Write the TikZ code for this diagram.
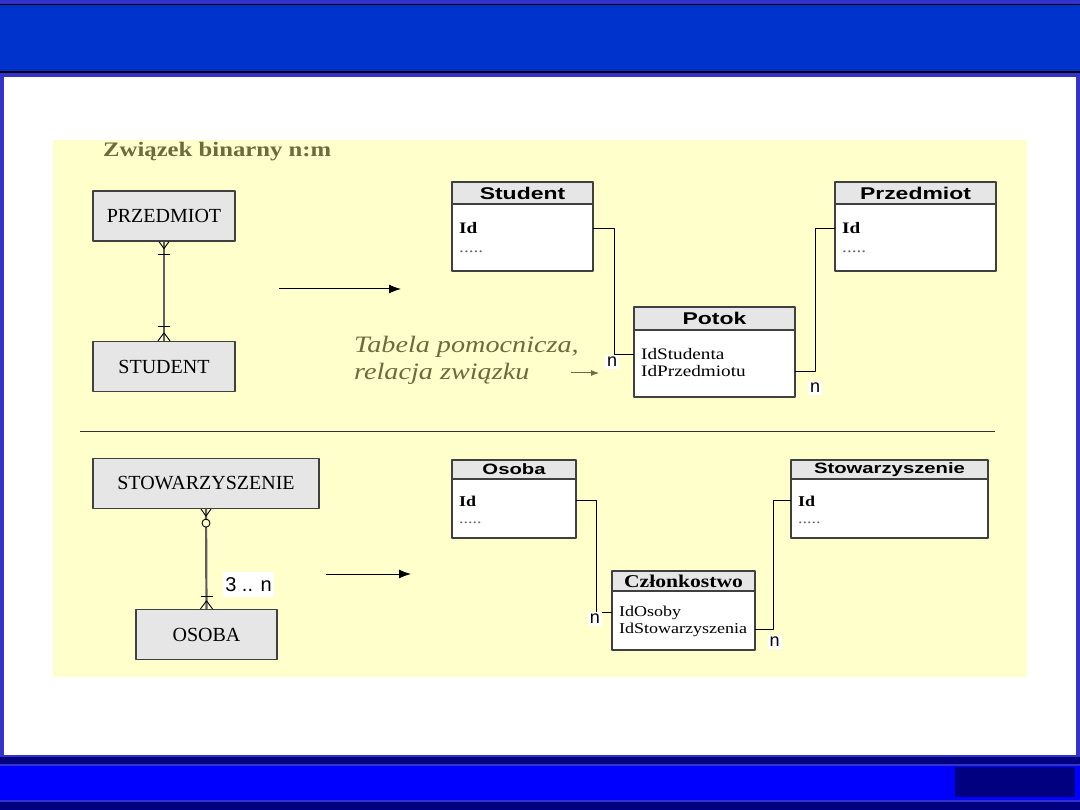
\documentclass[tikz,border=0pt]{standalone}
\usepackage{fontspec}
\setmainfont{Liberation Serif}
\newfontfamily\erfont{Liberation Serif}
\newfontfamily\fieldfont[FakeStretch=1.2]{Liberation Serif}
\newfontfamily\headfont[FakeStretch=1.35]{Liberation Sans}
\newfontfamily\labfont{Liberation Sans}
\usetikzlibrary{arrows.meta,positioning}
\definecolor{slideframe}{HTML}{3333CC}
\definecolor{headblue}{HTML}{0033CC}
\definecolor{footblue}{HTML}{0000FF}
\definecolor{footnavy}{HTML}{000080}
\definecolor{panelyellow}{HTML}{FFFFCC}
\definecolor{boxgray}{HTML}{E6E6E6}
\definecolor{edgegray}{HTML}{404040}
\definecolor{olivetext}{HTML}{6B6B3D}
\definecolor{relgray}{HTML}{5F5F5F}

\begin{document}
\begin{tikzpicture}[
  x=1pt,
  y=-1pt,
  line join=round,
  entity/.style={draw=edgegray,fill=boxgray,line width=1.2pt,minimum height=50,inner sep=0pt,font=\erfont\fontsize{20}{24}\selectfont},
  thead/.style={draw=edgegray,fill=boxgray,line width=1.2pt,outer sep=0pt,inner sep=0pt,font=\headfont\bfseries\fontsize{17}{20}\selectfont},
  tbody/.style={draw=edgegray,fill=white,line width=1.2pt,outer sep=0pt,inner sep=0pt},
  field/.style={anchor=base west,inner sep=0pt,font=\fieldfont\fontsize{16}{19}\selectfont},
  dots/.style={field,text=black!60},
  link/.style={draw=black,line width=0.9pt},
  card/.style={fill=white,inner sep=2pt,font=\labfont\fontsize{18}{20}\selectfont},
  relline/.style={draw=relgray,line width=2.2pt},
  crow/.style={draw=black,line width=0.9pt},
  note/.style={anchor=base west,inner sep=0pt,text=olivetext,font=\fieldfont\itshape\fontsize{23.5}{27}\selectfont},
  bigarrow/.style={draw=black,line width=1pt,-{Latex[length=12pt,width=9pt]}}
]
  \useasboundingbox (0,0) rectangle (1080,810);

  % slide frame, header and footer bands
  \fill[slideframe] (0,0) rectangle (1080,810);
  \fill[headblue] (0,4) rectangle (1080,72);
  \draw[black,line width=0.8pt] (0,4) -- (1080,4);
  \draw[black,line width=2pt] (0,72) -- (1080,72);
  \fill[white] (4,77) rectangle (1076,755);
  \fill[footnavy] (0,757) rectangle (1080,764);
  \fill[footblue] (0,766) rectangle (1080,800);
  \fill[footnavy] (955,767) rectangle (1075,797);
  \fill[footnavy] (0,802) rectangle (1080,810);

  % yellow panel
  \fill[panelyellow] (53,140) rectangle (1027,677);

  \node[anchor=base west,inner sep=0pt,text=olivetext,font=\fieldfont\bfseries\fontsize{20.6}{24}\selectfont] (title) at (103,157) {Związek binarny n:m};

  % upper part: ER model
  \node[entity,minimum width=142] (przedmiot) at (164,216) {PRZEDMIOT};
  \node[entity,minimum width=142] (student) at (164,366.5) {STUDENT};
  \draw[relline] (przedmiot.south) -- (student.north);
  \draw[crow] ([xshift=-5pt]przedmiot.south) -- ([yshift=-7pt]przedmiot.south) -- ([xshift=5pt]przedmiot.south);
  \draw[crow] ([xshift=-6pt,yshift=-13pt]przedmiot.south) -- ([xshift=6pt,yshift=-13pt]przedmiot.south);
  \draw[crow] ([xshift=-6pt,yshift=14pt]student.north) -- ([xshift=6pt,yshift=14pt]student.north);
  \draw[crow] ([xshift=-6pt]student.north) -- ([yshift=8pt]student.north) -- ([xshift=6pt]student.north);

  \coordinate (arrA) at (279,289);
  \coordinate (arrB) at (401,289);
  \draw[bigarrow] (arrA) -- (arrB);

  % upper part: tables
  \node[thead,minimum width=141,minimum height=22,anchor=north west] (stuH) at (452,182) {Student};
  \node[tbody,minimum width=141,minimum height=67,below=0pt of stuH] (stuB) {};
  \node[field] (stuId) at (459,234) {\textbf{Id}};
  \node[dots] (stuDots) at (459,253) {.....};

  \node[thead,minimum width=161,minimum height=22,anchor=north west] (przH) at (835,182) {Przedmiot};
  \node[tbody,minimum width=161,minimum height=67,below=0pt of przH] (przB) {};
  \node[field] (przId) at (842,234) {\textbf{Id}};
  \node[dots] (przDots) at (842,253) {.....};

  \node[thead,minimum width=161,minimum height=23,anchor=north west] (potH) at (634,307) {Potok};
  \node[tbody,minimum width=161,minimum height=67,below=0pt of potH] (potB) {};
  \node[field] (potSt) at (641,360) {IdStudenta};
  \node[field] (potPr) at (641,377) {IdPrzedmiotu};

  \draw[link] (stuId -| stuB.east) -- ++(21,0) |- (potSt -| potB.west);
  \draw[link] (potPr -| potB.east) -- ++(20,0) |- (przId -| przB.west);
  \node[card] (nA) at (612,362) {n};
  \node[card] (nB) at (815,388) {n};

  \node[note] (noteA) at (354,353) {Tabela pomocnicza,};
  \node[note] (noteB) at (354,380) {relacja związku};
  \coordinate (hintA) at (571,373);
  \coordinate (hintB) at (599,373);
  \draw[olivetext,line width=1pt,-{Latex[length=8pt,width=6pt]}] (hintA) -- (hintB);

  \coordinate (sepL) at (80,431);
  \coordinate (sepR) at (995,431);
  \draw[black!80,line width=0.8pt] (sepL) -- (sepR);

  % lower part: ER model
  \node[entity,minimum width=226] (stowarz) at (206,483.5) {STOWARZYSZENIE};
  \node[entity,minimum width=141] (osoba) at (206.5,634.5) {OSOBA};
  \draw[relline] (stowarz.south) -- (osoba.north);
  \draw[crow] ([xshift=-5pt]stowarz.south) -- ([yshift=-7pt]stowarz.south) -- ([xshift=5pt]stowarz.south);
  \draw[crow,fill=panelyellow] ([yshift=-14pt]stowarz.south) circle[radius=4];
  \draw[crow] ([xshift=-6pt,yshift=12pt]osoba.north) -- ([xshift=6pt,yshift=12pt]osoba.north);
  \draw[crow] ([xshift=-6pt]osoba.north) -- ([yshift=8pt]osoba.north) -- ([xshift=6pt]osoba.north);
  \node[card,font=\labfont\fontsize{20}{22}\selectfont,minimum width=47,minimum height=25] (range) at (248.5,584.5) {3 .. n};

  \coordinate (arrC) at (326,574);
  \coordinate (arrD) at (411,574);
  \draw[bigarrow] (arrC) -- (arrD);

  % lower part: tables
  \node[thead,font=\headfont\bfseries\fontsize{15}{18}\selectfont,minimum width=124,minimum height=19,anchor=north west] (osoH) at (452,460) {Osoba};
  \node[tbody,minimum width=124,minimum height=59,below=0pt of osoH] (osoB) {};
  \node[field,font=\fieldfont\fontsize{15}{18}\selectfont] (osoId) at (459,506) {\textbf{Id}};
  \node[dots,font=\fieldfont\fontsize{15}{18}\selectfont] (osoDots) at (459,523) {.....};

  \node[thead,font=\headfont\bfseries\fontsize{15}{18}\selectfont,minimum width=197,minimum height=19,anchor=north west] (stwH) at (791,460) {Stowarzyszenie};
  \node[tbody,minimum width=197,minimum height=59,below=0pt of stwH] (stwB) {};
  \node[field,font=\fieldfont\fontsize{15}{18}\selectfont] (stwId) at (798,506) {\textbf{Id}};
  \node[dots,font=\fieldfont\fontsize{15}{18}\selectfont] (stwDots) at (798,523) {.....};

  \node[thead,font=\fieldfont\bfseries\fontsize{18}{20}\selectfont,minimum width=143,minimum height=20,anchor=north west] (czlH) at (612,571) {Członkostwo};
  \node[tbody,minimum width=143,minimum height=59,below=0pt of czlH] (czlB) {};
  \node[field,font=\fieldfont\fontsize{15}{18}\selectfont] (czlOs) at (619,616) {IdOsoby};
  \node[field,font=\fieldfont\fontsize{15}{18}\selectfont] (czlSt) at (619,633) {IdStowarzyszenia};

  \draw[link] (osoId -| osoB.east) -- ++(20,0) |- (czlOs -| czlB.west);
  \draw[link] (czlSt -| czlB.east) -- ++(18,0) |- (stwId -| stwB.west);
  \node[card] (nC) at (595,619) {n};
  \node[card] (nD) at (774.5,642) {n};
\end{tikzpicture}
\end{document}
